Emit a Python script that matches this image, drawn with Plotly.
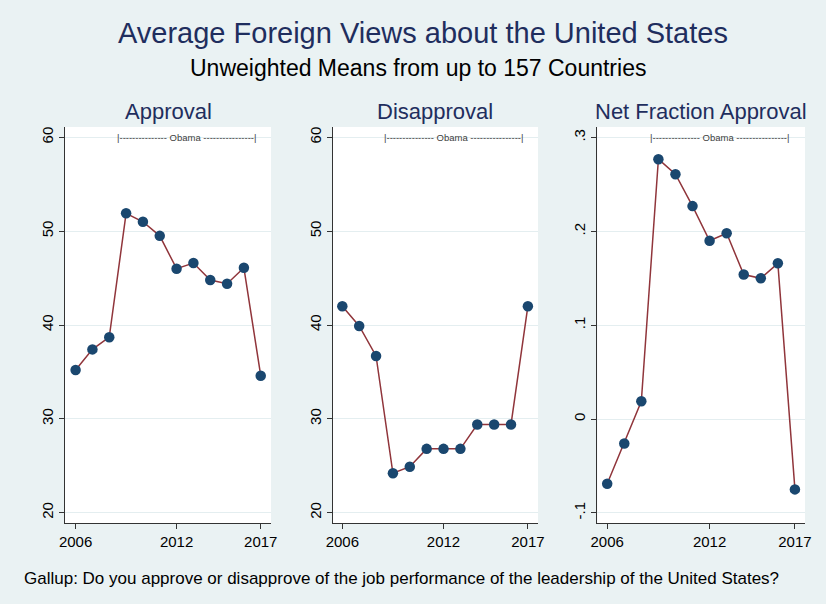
import plotly.graph_objects as go

years = list(range(2006, 2018))
approval = [35.2, 37.4, 38.7, 51.9, 51.0, 49.5, 46.0, 46.6, 44.8, 44.4, 46.1, 34.6]
disapproval = [42.0, 39.9, 36.7, 24.2, 24.9, 26.8, 26.8, 26.8, 29.4, 29.4, 29.4, 42.0]
net_approval = [-0.069, -0.026, 0.019, 0.277, 0.261, 0.227, 0.190, 0.198, 0.154, 0.150, 0.166, -0.075]

panel_titles = ["Approval", "Disapproval", "Net Fraction Approval"]
x_ticks = [2006, 2012, 2017]
y_ticks_pct = [20, 30, 40, 50, 60]
y_ticks_net = [-0.1, 0, 0.1, 0.2, 0.3]
y_ticktext_net = ["-.1", "0", ".1", ".2", ".3"]
obama_label = "|--------------- Obama ----------------|"
obama_center = 2012.6

W, H = 826, 604
BG = "#EAF2F3"
NAVY = "#1A476F"
MAROON = "#90353B"
TITLE_C = "#1F2E5E"
FONT = "Liberation Sans, Arial, sans-serif"

x_dom = [(65 / W, 271 / W), (332.7 / W, 538 / W), (597.3 / W, 805 / W)]
y_dom = (1 - 523 / H, 1 - 127 / H)

series = [approval, disapproval, net_approval]
fig = go.Figure()
for i, vals in enumerate(series):
    sfx = "" if i == 0 else str(i + 1)
    fig.add_trace(go.Scatter(
        x=years, y=vals, mode="lines+markers",
        line=dict(color=MAROON, width=1.5),
        marker=dict(color=NAVY, size=10.5),
        xaxis="x" + sfx, yaxis="y" + sfx, showlegend=False,
        hoverinfo="x+y",
    ))

layout = dict(
    width=W, height=H,
    paper_bgcolor=BG, plot_bgcolor="white",
    margin=dict(l=0, r=0, t=0, b=0, autoexpand=False),
    font=dict(family=FONT, color="black"),
    showlegend=False,
)
x_ranges = [(2005.37, 2017.61), (2005.43, 2017.6), (2005.42, 2017.59)]
for i in range(3):
    sfx = "" if i == 0 else str(i + 1)
    layout["xaxis" + sfx] = dict(
        domain=list(x_dom[i]), range=list(x_ranges[i]), anchor="y" + sfx,
        tickmode="array", tickvals=x_ticks, ticks="outside", ticklen=5,
        tickcolor="#333333", showline=True, linecolor="#333333", linewidth=1,
        showgrid=False, zeroline=False, automargin=False,
        tickfont=dict(size=15, color="black", family=FONT),
    )
    if i < 2:
        yax = dict(range=[18.9, 61.1], tickvals=y_ticks_pct)
    else:
        yax = dict(range=[-0.1108, 0.3113], tickvals=y_ticks_net, ticktext=y_ticktext_net)
    yax.update(
        domain=list(y_dom), anchor="x" + sfx, tickmode="array",
        ticks="outside", ticklen=5, tickcolor="#333333",
        showline=True, linecolor="#333333", linewidth=1,
        showgrid=True, gridcolor="#E4EEF0", gridwidth=1, zeroline=False,
        automargin=False,
        tickangle=-90, tickfont=dict(size=15, color="black", family=FONT),
    )
    layout["yaxis" + sfx] = yax

anns = []
anns.append(dict(text="Average Foreign Views about the United States", x=423 / W, y=1 - 33 / H,
                 xref="paper", yref="paper", xanchor="center", yanchor="middle", showarrow=False,
                 font=dict(size=29, color=TITLE_C, family=FONT)))
anns.append(dict(text="Unweighted Means from up to 157 Countries", x=418 / W, y=1 - 68 / H,
                 xref="paper", yref="paper", xanchor="center", yanchor="middle", showarrow=False,
                 font=dict(size=23, color="black", family=FONT)))
for i in range(3):
    anns.append(dict(text=panel_titles[i], x=(x_dom[i][0] + x_dom[i][1]) / 2, y=1 - 111 / H,
                     xref="paper", yref="paper", xanchor="center", yanchor="middle", showarrow=False,
                     font=dict(size=22, color=TITLE_C, family=FONT)))
    sfx = "" if i == 0 else str(i + 1)
    anns.append(dict(text=obama_label, x=obama_center, y=y_ticks_pct[-1] if i < 2 else y_ticks_net[-1],
                     xref="x" + sfx, yref="y" + sfx, xanchor="center", yanchor="middle", showarrow=False,
                     font=dict(size=9.5, color="#404040", family=FONT)))
anns.append(dict(text="Gallup: Do you approve or disapprove of the job performance of the leadership of the United States?",
                 x=22 / W, y=1 - 578 / H, xref="paper", yref="paper", xanchor="left", yanchor="middle",
                 showarrow=False, font=dict(size=17, color="black", family=FONT)))
layout["annotations"] = anns

fig.update_layout(**layout)
fig.write_html(
    "out.html",
    config={"displayModeBar": False},
    post_script="document.body.style.margin='0';document.body.style.background='" + BG + "';",
)
